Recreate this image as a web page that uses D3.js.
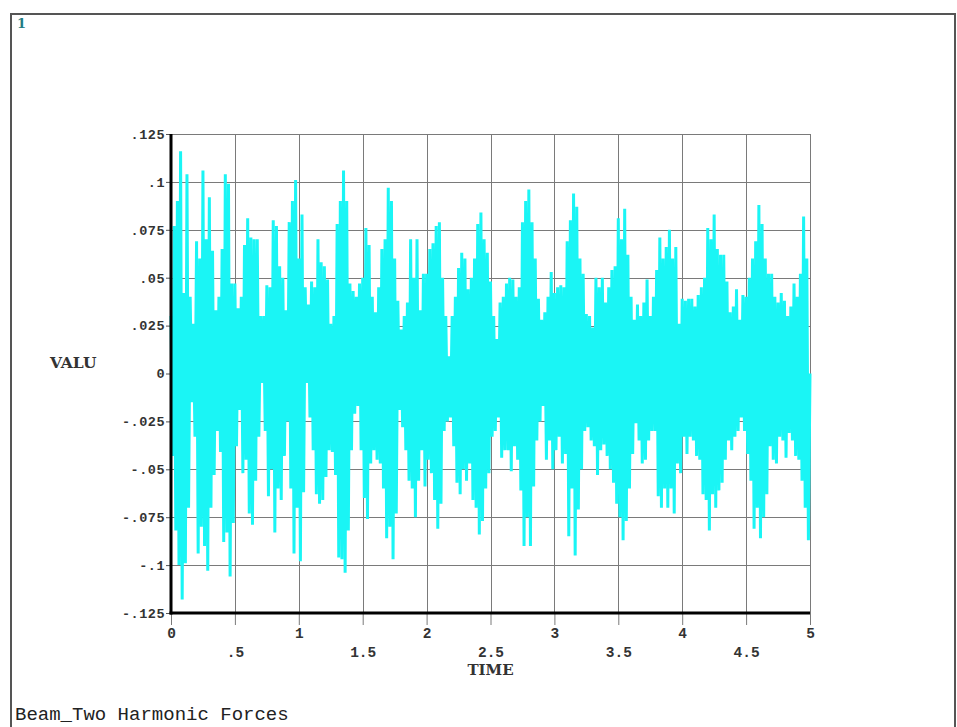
<!DOCTYPE html>
<html><head><meta charset="utf-8">
<script src="https://cdn.jsdelivr.net/npm/d3@7/dist/d3.min.js"></script>
<style>body{margin:0;background:#fff}svg{display:block}</style>
</head><body>
<svg id="c" width="957" height="727"></svg>
<script>
// ---- data ----
const yTicks = [-0.125,-0.1,-0.075,-0.05,-0.025,0,0.025,0.05,0.075,0.1,0.125];
const yTickLabels = ["-.125","-.1","-.075","-.05","-.025","0",".025",".05",".075",".1",".125"];
const xTicks = [0,0.5,1,1.5,2,2.5,3,3.5,4,4.5,5];
const xTickLabels = ["0",".5","1","1.5","2","2.5","3","3.5","4","4.5","5"];
const sampleStep = 0.025; // time between successive upper peaks
// upper peak value at t = i*step
const upperPeaks = [
.03,.077,.09,.116,.042,.104,.04,.026,.069,.06,
.106,.07,.092,.064,.033,.04,.065,.104,.099,.047,
.047,.034,.04,.067,.081,.071,.07,.07,.03,.03,
.046,.045,.08,.077,.056,.05,.033,.079,.09,.101,
.06,.083,.045,.036,.048,.045,.07,.058,.056,.049,
.026,.03,.078,.09,.106,.09,.047,.043,.04,.047,
.05,.076,.067,.04,.032,.045,.065,.07,.097,.09,
.06,.038,.023,.03,.037,.07,.05,.07,.033,.052,
.052,.065,.068,.077,.079,.05,.03,.009,.03,.04,
.055,.063,.06,.044,.05,.06,.078,.084,.07,.063,
.048,.03,.018,.037,.04,.047,.05,.049,.04,.045,
.079,.09,.096,.079,.06,.039,.028,.032,.04,.053,
.042,.045,.046,.045,.069,.08,.094,.087,.06,.052,
.031,.03,.024,.05,.045,.05,.037,.045,.054,.056,
.081,.07,.086,.062,.04,.028,.036,.03,.037,.049,
.03,.04,.054,.071,.06,.066,.075,.06,.066,.026,
.039,.038,.039,.039,.035,.041,.045,.05,.076,.07,
.083,.065,.062,.062,.048,.032,.035,.044,.028,.041,
.04,.05,.06,.069,.088,.078,.06,.052,.052,.04,
.037,.042,.038,.03,.035,.047,.04,.052,.082,.06,
0.0];
// lower peak value at t = (i+0.5)*step
const lowerPeaks = [
-.043,-.082,-.1,-.118,-.099,-.07,-.015,-.033,-.094,-.08,
-.09,-.103,-.07,-.053,-.03,-.041,-.088,-.083,-.106,-.078,
-.038,-.019,-.052,-.045,-.073,-.079,-.056,-.033,-.005,-.03,
-.064,-.05,-.083,-.06,-.066,-.043,-.025,-.06,-.094,-.07,
-.098,-.062,-.005,-.023,-.04,-.063,-.068,-.066,-.054,-.04,
-.041,-.053,-.096,-.097,-.104,-.082,-.04,-.021,-.017,-.04,
-.065,-.076,-.047,-.04,-.045,-.047,-.06,-.086,-.08,-.097,
-.073,-.019,-.028,-.04,-.056,-.06,-.075,-.056,-.04,-.059,
-.045,-.052,-.066,-.081,-.068,-.03,-.025,-.023,-.038,-.057,
-.063,-.05,-.056,-.047,-.066,-.07,-.084,-.077,-.06,-.052,
-.033,-.03,-.023,-.044,-.04,-.04,-.051,-.038,-.045,-.061,
-.09,-.075,-.09,-.059,-.035,-.025,-.017,-.045,-.035,-.05,
-.04,-.033,-.047,-.042,-.085,-.06,-.095,-.071,-.05,-.03,
-.028,-.035,-.038,-.053,-.04,-.037,-.043,-.05,-.057,-.068,
-.075,-.087,-.077,-.06,-.042,-.026,-.035,-.047,-.045,-.035,
-.03,-.03,-.064,-.07,-.06,-.07,-.06,-.073,-.047,-.052,
-.033,-.042,-.033,-.035,-.043,-.045,-.063,-.066,-.082,-.063,
-.07,-.061,-.057,-.045,-.035,-.04,-.033,-.03,-.023,-.03,
-.042,-.056,-.081,-.07,-.086,-.075,-.063,-.038,-.045,-.047,
-.033,-.035,-.044,-.031,-.035,-.043,-.045,-.056,-.07,-.087];
const titleText = "Beam_Two Harmonic Forces";
const xTitle = "TIME", yTitle = "VALU", windowNo = "1";

// ---- drawing ----
const svg = d3.select("#c");
const L = 171, R = 810, T = 134, B = 613;
const x = d3.scaleLinear().domain([0,5]).range([L,R]);
const y = d3.scaleLinear().domain([-0.125,0.125]).range([B,T]);

// window frame
svg.append("rect").attr("x",11).attr("y",14).attr("width",944).attr("height",740)
  .attr("fill","none").attr("stroke","#555").attr("stroke-width",2);
svg.append("text").attr("x",17).attr("y",28).text(windowNo)
  .attr("font-family","DejaVu Serif").attr("font-weight","bold").attr("font-size",13).attr("fill","#237c84");

// grid
const grid = svg.append("g").attr("stroke","#7a7a7a").attr("stroke-width",1).attr("shape-rendering","crispEdges");
grid.selectAll(".h").data(yTicks).join("line").attr("x1",L).attr("x2",R).attr("y1",d=>Math.round(y(d))+0.5).attr("y2",d=>Math.round(y(d))+0.5);
grid.selectAll(".v").data(xTicks).join("line").attr("y1",T).attr("y2",B).attr("x1",d=>Math.round(x(d))+0.5).attr("x2",d=>Math.round(x(d))+0.5);

// signal: alternate upper and lower peaks
const pts = [];
upperPeaks.forEach((u,i)=>{
  pts.push([i*sampleStep,u]);
  if(i<lowerPeaks.length) pts.push([(i+0.5)*sampleStep,lowerPeaks[i]]);
});
svg.append("path").datum(pts)
  .attr("d",d3.line().x(d=>x(d[0])).y(d=>y(d[1])))
  .attr("fill","none").attr("stroke","#1af5f5").attr("stroke-width",3).attr("stroke-linejoin","bevel");

// y axis
const ya = svg.append("g").attr("transform",`translate(${L},0)`)
  .call(d3.axisLeft(y).tickValues(yTicks).tickFormat((d,i)=>yTickLabels[i]).tickSize(5).tickSizeOuter(0).tickPadding(1));
ya.select(".domain").remove();
ya.selectAll(".tick line").attr("stroke","#555");
ya.selectAll(".tick text").attr("font-family","Liberation Mono").attr("font-weight","bold").attr("font-size",13.5).attr("fill","#333").attr("letter-spacing","0.5px");

// x axis
const xa = svg.append("g").attr("transform",`translate(0,${B})`)
  .call(d3.axisBottom(x).tickValues(xTicks).tickFormat((d,i)=>xTickLabels[i]).tickSize(12).tickSizeOuter(0));
xa.select(".domain").remove();
xa.selectAll(".tick line").attr("stroke","#7a7a7a");
xa.selectAll(".tick text").attr("font-family","Liberation Mono").attr("font-weight","bold").attr("font-size",14.5).attr("fill","#333")
  .attr("dy",0).attr("y",(d,i)=> i%2===0 ? 25 : 44);

// thick axes
svg.append("line").attr("x1",L).attr("x2",L).attr("y1",T).attr("y2",B+1.5).attr("stroke","#000").attr("stroke-width",3);
svg.append("line").attr("x1",L-1.5).attr("x2",R).attr("y1",B).attr("y2",B).attr("stroke","#000").attr("stroke-width",3);

// titles
svg.append("text").attr("x",50).attr("y",368).text(yTitle)
  .attr("font-family","DejaVu Serif").attr("font-weight","bold").attr("font-size",15.5).attr("fill","#333");
svg.append("text").attr("x",x(2.5)).attr("y",675).attr("text-anchor","middle").text(xTitle)
  .attr("font-family","DejaVu Serif").attr("font-weight","bold").attr("font-size",15).attr("fill","#333");
svg.append("text").attr("x",15).attr("y",720).text(titleText)
  .attr("font-family","Liberation Mono").attr("font-size",19).attr("fill","#222");
</script>
</body></html>
